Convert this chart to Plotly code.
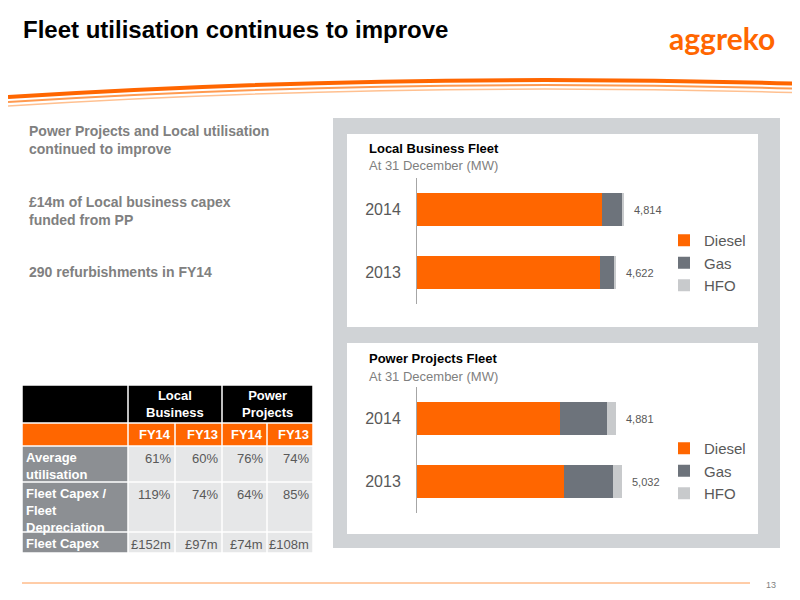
import plotly.graph_objects as go

years = ["2013", "2014"]
local_diesel = [4250, 4290]
local_gas = [335, 480]
local_hfo = [37, 44]
local_totals = ["4,622", "4,814"]
pp_diesel = [3606, 3508]
pp_gas = [1202, 1153]
pp_hfo = [224, 220]
pp_totals = ["5,032", "4,881"]
fuels = ["Diesel", "Gas", "HFO"]
colors = ["#ff6600", "#6d737b", "#c8cacc"]

tbl_groups = ["Local<br>Business", "Power<br>Projects"]
tbl_periods = ["FY14", "FY13", "FY14", "FY13"]
tbl_rows = ["Average<br>utilisation", "Fleet Capex /<br>Fleet<br>Depreciation", "Fleet Capex"]
tbl_values = [["61%", "60%", "76%", "74%"],
              ["119%", "74%", "64%", "85%"],
              ["£152m", "£97m", "£74m", "£108m"]]

bullets = ["Power Projects and Local utilisation<br>continued to improve",
           "£14m of Local business capex<br>funded from PP",
           "290 refurbishments in FY14"]

W, H = 800, 600
OFF = 8
def X(p): return (p - OFF) / W
def Y(p): return 1 - (p - OFF) / H

fig = go.Figure()
F = "Liberation Sans, Arial, sans-serif"

series = [(local_diesel, local_gas, local_hfo, "x", "y", "legend"),
          (pp_diesel, pp_gas, pp_hfo, "x2", "y2", "legend2")]
for d, g, h, xa, ya, lg in series:
    for name, vals, c in zip(fuels, [d, g, h], colors):
        fig.add_trace(go.Bar(y=years, x=vals, name=name, orientation="h",
                             marker=dict(color=c, line=dict(width=0)), width=0.52,
                             xaxis=xa, yaxis=ya, legend=lg))

shapes = []
shapes.append(dict(type="rect", xref="paper", yref="paper", x0=X(333), x1=X(780), y0=Y(548), y1=Y(118),
                   fillcolor="#d0d3d6", line=dict(width=0), layer="below"))
shapes.append(dict(type="rect", xref="paper", yref="paper", x0=X(347), x1=X(758), y0=Y(327), y1=Y(134),
                   fillcolor="white", line=dict(width=0), layer="below"))
shapes.append(dict(type="rect", xref="paper", yref="paper", x0=X(347), x1=X(758), y0=Y(534), y1=Y(343),
                   fillcolor="white", line=dict(width=0), layer="below"))
for w, col, dy in [(4, "#ff6600", 0), (2, "#ff9a50", 5), (1.5, "#ffc090", 9)]:
    shapes.append(dict(type="path", xref="paper", yref="paper",
                       path=f"M {X(8)},{Y(97+dy)} Q {X(400)},{Y(72+dy)} {X(808)},{Y(84+dy)}",
                       line=dict(color=col, width=w)))
shapes.append(dict(type="line", xref="paper", yref="paper", x0=X(22), x1=X(750), y0=Y(583), y1=Y(583),
                   line=dict(color="#ff9a50", width=1)))

ann = []
ann.append(dict(text="<b>Fleet utilisation continues to improve</b>", x=X(21), y=Y(30), xanchor="left",
                yanchor="middle", font=dict(size=24, color="black", family=F)))
ann.append(dict(text="<b>aggreko</b>", x=X(777), y=Y(38), xanchor="right", yanchor="middle",
                font=dict(size=30, color="#ff6600", family="Lato, sans-serif")))
ann.append(dict(text="13", x=X(778), y=Y(585), xanchor="right", yanchor="middle",
                font=dict(size=9, color="#7f7f7f", family=F)))
for t, py in zip(bullets, [140, 211, 272]):
    ann.append(dict(text=f"<b>{t}</b>", x=X(27), y=Y(py), xanchor="left", yanchor="middle", align="left",
                    font=dict(size=14, color="#808080", family=F)))
for title, py in [("Local Business Fleet", 148), ("Power Projects Fleet", 358)]:
    ann.append(dict(text=f"<b>{title}</b>", x=X(367), y=Y(py), xanchor="left", yanchor="middle",
                    font=dict(size=13, color="black", family=F)))
    ann.append(dict(text="At 31 December (MW)", x=X(367), y=Y(py + 18), xanchor="left", yanchor="middle",
                    font=dict(size=13, color="#7f7f7f", family=F)))
for (d, g, h, xa, ya, _), tots in zip(series, [local_totals, pp_totals]):
    for i in range(len(years)):
        ann.append(dict(text=tots[i], x=d[i] + g[i] + h[i], y=i, xref=xa, yref=ya, xanchor="left",
                        xshift=8, showarrow=False, font=dict(size=11, color="#595959", family=F)))

cols = [22, 128, 175, 222, 267, 313]
rows = [385, 423, 446, 482, 532, 553]
gap = 1.5
TF = 13
def cell(c0, c1, r0, r1, fill, text, color, bold, align):
    shapes.append(dict(type="rect", xref="paper", yref="paper", x0=X(c0 + gap / 2), x1=X(c1 - gap / 2),
                       y0=Y(r1 - gap / 2), y1=Y(r0 + gap / 2), fillcolor=fill, line=dict(width=0)))
    if text:
        t = f"<b>{text}</b>" if bold else text
        if align == "center":
            ann.append(dict(text=t, x=X((c0 + c1) / 2), y=Y((r0 + r1) / 2), xanchor="center", yanchor="middle",
                            font=dict(size=TF, color=color, family=F)))
        elif align == "left":
            ann.append(dict(text=t, x=X(c0 + 2), y=Y(r0 + 2), xanchor="left", yanchor="top", align="left",
                            font=dict(size=TF, color=color, family=F)))
        elif align == "right_mid":
            ann.append(dict(text=t, x=X(c1 - 2), y=Y((r0 + r1) / 2), xanchor="right", yanchor="middle",
                            font=dict(size=TF, color=color, family=F)))
        else:
            ann.append(dict(text=t, x=X(c1 - 2), y=Y(r0 + 3), xanchor="right", yanchor="top",
                            font=dict(size=TF, color=color, family=F)))

cell(cols[0], cols[1], rows[0], rows[1], "black", "", "white", True, "center")
cell(cols[1], cols[3], rows[0], rows[1], "black", tbl_groups[0], "white", True, "center")
cell(cols[3], cols[5], rows[0], rows[1], "black", tbl_groups[1], "white", True, "center")
cell(cols[0], cols[1], rows[1], rows[2], "#ff6600", "", "white", True, "center")
for j, p in enumerate(tbl_periods):
    cell(cols[j + 1], cols[j + 2], rows[1], rows[2], "#ff6600", p, "white", True, "right_mid")
for i, lab in enumerate(tbl_rows):
    cell(cols[0], cols[1], rows[i + 2], rows[i + 3], "#8c8f93", lab, "white", True, "left")
    for j, v in enumerate(tbl_values[i]):
        cell(cols[j + 1], cols[j + 2], rows[i + 2], rows[i + 3], "#e6e7e8", v, "#595959", False, "right")

for a in ann:
    a.setdefault("xref", "paper"); a.setdefault("yref", "paper"); a.setdefault("showarrow", False)

ax_common = dict(showgrid=False, zeroline=False, showticklabels=False, showline=False)
yax_common = dict(type="category", showgrid=False, showline=True, linecolor="#a6a6a6", linewidth=1, ticks="",
                  tickfont=dict(size=16, color="#595959", family=F), ticklabelstandoff=12)
leg = dict(xanchor="left", yanchor="middle", traceorder="normal",
           font=dict(size=15, color="#595959", family=F), itemwidth=30, tracegroupgap=0,
           bgcolor="rgba(0,0,0,0)")
fig.update_layout(
    width=W, height=H, margin=dict(l=0, r=0, t=0, b=0), paper_bgcolor="white", plot_bgcolor="rgba(0,0,0,0)",
    barmode="stack", shapes=shapes, annotations=ann,
    xaxis=dict(domain=[X(417), X(700)], range=[0, 6580], anchor="y", **ax_common),
    yaxis=dict(domain=[Y(304), Y(178)], range=[-0.5, 1.5], anchor="x", **yax_common),
    xaxis2=dict(domain=[X(417), X(700)], range=[0, 6935], anchor="y2", **ax_common),
    yaxis2=dict(domain=[Y(513), Y(387)], range=[-0.5, 1.5], anchor="x2", **yax_common),
    legend=dict(x=X(664), y=Y(263), **leg),
    legend2=dict(x=X(664), y=Y(471), **leg),
)
fig.write_html("out.html")
